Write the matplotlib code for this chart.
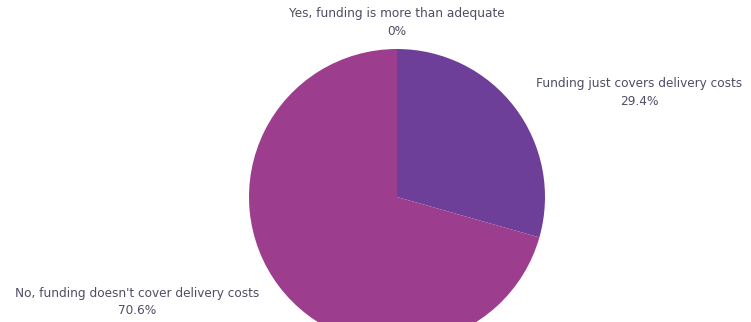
import matplotlib.pyplot as plt

labels = ["Yes, funding is more than adequate",
          "Funding just covers delivery costs",
          "No, funding doesn't cover delivery costs"]
values = [0, 29.4, 70.6]
colors = ["#8a3f95", "#6e3f99", "#9c3d8e"]
label_pos = [(397, 300), (639, 230), (137, 20)]

fig = plt.figure(figsize=(7.51, 3.22), dpi=100)
ax = fig.add_axes([0, 0, 1, 1])

ax.pie(values, colors=colors, startangle=90, counterclock=False,
       center=(397, 125), radius=148, frame=True,
       wedgeprops={"linewidth": 0})
ax.set_xlim(0, 751)
ax.set_ylim(0, 322)
ax.set_aspect("equal")
ax.axis("off")

for name, v, (x, y) in zip(labels, values, label_pos):
    pct = f"{v:g}%"
    ax.text(x, y, f"{name}\n{pct}", ha="center", va="center",
            fontsize=8.7, color="#4e4e64", family="DejaVu Sans",
            linespacing=1.5)

plt.savefig("out.png", dpi=100)
